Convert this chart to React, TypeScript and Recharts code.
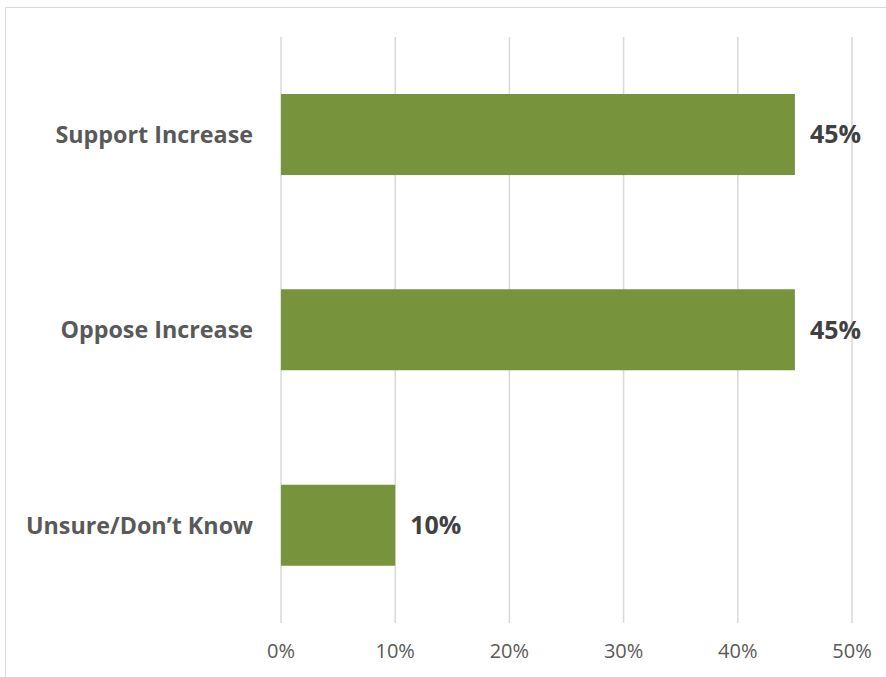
import React from "react";
import { BarChart, Bar, XAxis, YAxis, CartesianGrid, LabelList } from "recharts";

const categories = ["Support Increase", "Oppose Increase", "Unsure/Don’t Know"];
const shares = [0.45, 0.45, 0.1];
const xTicks = [0, 0.1, 0.2, 0.3, 0.4, 0.5];

const data = categories.map((name, i) => ({ name, value: shares[i] }));

const FONT = "'Open Sans', sans-serif";
const pct = (v: any) => `${Math.round(Number(v) * 100)}%`;

export default function App() {
  return (
    <div style={{ position: "absolute", left: 0, top: 0, width: 886, height: 677, overflow: "hidden", background: "#fff" }}>
      <div style={{ position: "absolute", left: 5, top: 7, width: 1000, height: 1000, border: "1px solid #d9d9d9", boxSizing: "border-box" }} />
      <div style={{ position: "absolute", left: 0, top: 0 }}>
        <BarChart
          width={886}
          height={677}
          data={data}
          layout="vertical"
          margin={{ top: 37, right: 34, bottom: 0, left: 0 }}
          barSize={81}
        >
          <CartesianGrid horizontal={false} stroke="#d9d9d9" strokeWidth={1.5} />
          <XAxis
            type="number"
            domain={[0, 0.5]}
            ticks={xTicks}
            tickFormatter={pct}
            axisLine={false}
            tickLine={false}
            tickSize={0}
            tickMargin={21}
            height={54}
            interval={0}
            tick={{ fill: "#595959", fontSize: 20, fontFamily: FONT }}
          />
          <YAxis
            type="category"
            dataKey="name"
            width={281}
            axisLine={false}
            tickLine={false}
            tickSize={0}
            tickMargin={28}
            tick={{ fill: "#595959", fontSize: 23.3, fontWeight: 700, fontFamily: FONT }}
          />
          <Bar dataKey="value" fill="#77933C" isAnimationActive={false}>
            <LabelList
              dataKey="value"
              position="right"
              offset={15}
              formatter={pct}
              style={{ fill: "#404040", fontSize: 25, fontWeight: 700, fontFamily: FONT }}
            />
          </Bar>
        </BarChart>
      </div>
    </div>
  );
}
